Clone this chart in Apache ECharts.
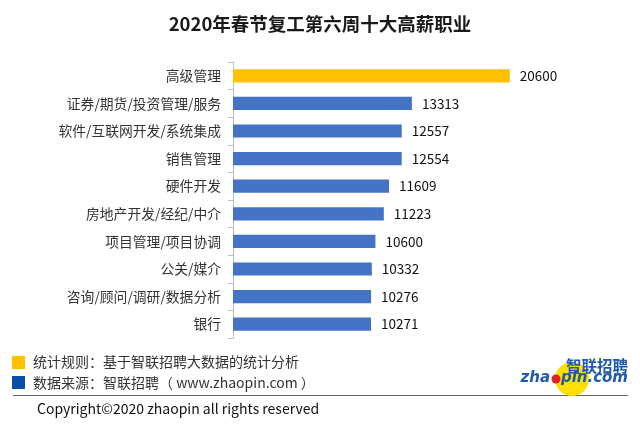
<!DOCTYPE html>
<html><head><meta charset="utf-8">
<script src="https://cdn.jsdelivr.net/npm/echarts@6/dist/echarts.min.js"></script>
<style>html,body{margin:0;padding:0;background:#fff}#c{width:640px;height:427px}</style>
</head><body><div id="c"></div>
<script>
const categories = ['高级管理','证券/期货/投资管理/服务','软件/互联网开发/系统集成','销售管理','硬件开发','房地产开发/经纪/中介','项目管理/项目协调','公关/媒介','咨询/顾问/调研/数据分析','银行'];
const salaries = [20600,13313,12557,12554,11609,11223,10600,10332,10276,10271];
const highlightColor = '#FFC000';
const barColor = '#4472C4';
const FONT = '"Noto Sans CJK SC", "Noto Sans", sans-serif';

const chart = echarts.init(document.getElementById('c'));
chart.setOption({
  backgroundColor: '#fff',
  animation: false,
  title: {
    text: '2020年春节复工第六周十大高薪职业',
    left: 'center', top: 10,
    textStyle: {fontFamily: FONT, fontSize: 18.5, fontWeight: 'bold', color: '#1a1a1a'}
  },
  grid: {left: 233, top: 62, width: 322.5, height: 276},
  xAxis: {type: 'value', min: 0, max: 24000, show: false},
  yAxis: {
    type: 'category', inverse: true, data: categories,
    axisLine: {lineStyle: {color: '#bfbfbf'}},
    axisTick: {show: true, length: 5, lineStyle: {color: '#bfbfbf'}},
    axisLabel: {margin: 12, fontFamily: FONT, fontSize: 13.8, color: '#333'}
  },
  series: [{
    type: 'bar',
    data: salaries.map((v, i) => ({value: v, itemStyle: {color: i === 0 ? highlightColor : barColor}})),
    barWidth: '48%',
    label: {show: true, position: 'right', distance: 10, fontFamily: FONT, fontSize: 13.5, color: '#111'}
  }],
  graphic: [
    {type: 'rect', shape: {x: 12, y: 356, width: 13, height: 13}, style: {fill: '#FFC000'}},
    {type: 'text', x: 33, y: 362, style: {text: '统计规则：基于智联招聘大数据的统计分析', font: '14px ' + FONT, fill: '#333', textVerticalAlign: 'middle'}},
    {type: 'rect', shape: {x: 12, y: 376, width: 13, height: 13}, style: {fill: '#0A4EA8'}},
    {type: 'text', x: 33, y: 383, style: {text: '数据来源：智联招聘（ www.zhaopin.com ）', font: '14px ' + FONT, fill: '#333', textVerticalAlign: 'middle'}},
    {type: 'line', shape: {x1: 13, y1: 395.5, x2: 628, y2: 395.5}, style: {stroke: '#666', lineWidth: 1.2}},
    {type: 'text', x: 37, y: 409, style: {text: 'Copyright©2020 zhaopin all rights reserved', font: '14px ' + FONT, fill: '#111', textVerticalAlign: 'middle'}},
    {type: 'circle', shape: {cx: 572, cy: 379, r: 17}, style: {fill: '#FFE000'}},
    {type: 'text', x: 628, y: 366, style: {text: '智联招聘', font: 'bold 15.5px ' + FONT, fill: '#1F5AAE', textAlign: 'right', textVerticalAlign: 'middle'}},
    {type: 'text', x: 550, y: 378, style: {text: 'zha', font: 'italic bold 15px "DejaVu Sans", sans-serif', fill: '#1F5AAE', textAlign: 'right', textVerticalAlign: 'middle'}},
    {type: 'circle', shape: {cx: 556, cy: 379, r: 4.5}, style: {fill: '#D22'}},
    {type: 'text', x: 628, y: 378, style: {text: 'pin.com', font: 'italic bold 15px "DejaVu Sans", sans-serif', fill: '#1F5AAE', textAlign: 'right', textVerticalAlign: 'middle'}}
  ]
});
</script></body></html>
